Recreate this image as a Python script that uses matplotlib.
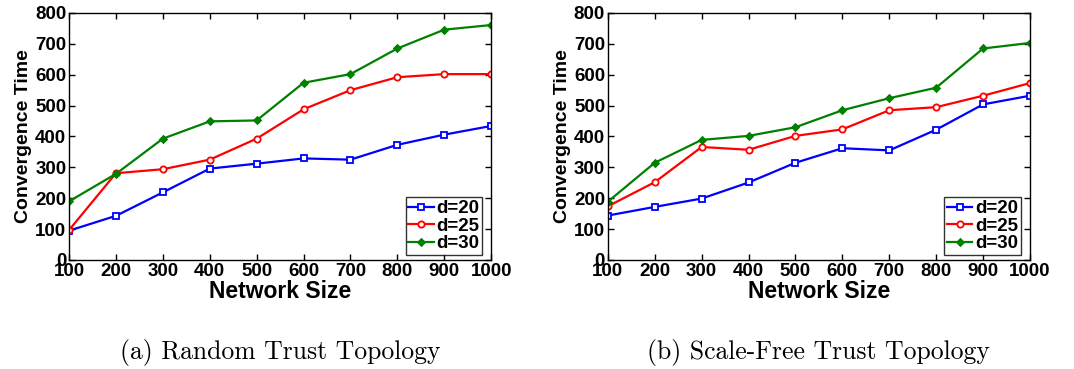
import numpy as np
import matplotlib
matplotlib.use('Agg')
import matplotlib.pyplot as plt

# Data
network_size = [100, 200, 300, 400, 500, 600, 700, 800, 900, 1000]

random_d20 = [95, 143, 219, 296, 312, 329, 325, 373, 406, 434]
random_d25 = [97, 281, 294, 325, 393, 488, 550, 592, 602, 602]
random_d30 = [190, 279, 393, 449, 452, 574, 602, 685, 746, 761]

scalefree_d20 = [144, 172, 199, 251, 315, 362, 355, 422, 504, 532]
scalefree_d25 = [174, 252, 366, 357, 402, 423, 485, 495, 532, 573]
scalefree_d30 = [189, 315, 389, 402, 430, 485, 524, 558, 685, 703]

labels = ['d=20', 'd=25', 'd=30']
captions = ['(a) Random Trust Topology', '(b) Scale-Free Trust Topology']

styles = [
    dict(color='#0000ff', marker='s', mfc='white', ms=4.5),
    dict(color='#ff0000', marker='o', mfc='white', ms=4.5),
    dict(color='#008000', marker='D', mfc='#008000', ms=3.5),
]

plt.rcParams['font.family'] = 'Liberation Sans'
plt.rcParams['font.weight'] = 'bold'

fig = plt.figure(figsize=(10.74, 3.69), dpi=100)
ax1 = fig.add_axes([0.0643, 0.2954, 0.393, 0.6694])
ax2 = fig.add_axes([0.566, 0.2954, 0.393, 0.6694])

panels = [
    (ax1, [random_d20, random_d25, random_d30]),
    (ax2, [scalefree_d20, scalefree_d25, scalefree_d30]),
]

for ax, series in panels:
    for vals, lab, st in zip(series, labels, styles):
        ax.plot(network_size, vals, linewidth=1.6, label=lab,
                mew=1.3, **st)
    ax.set_xlim(100, 1000)
    ax.set_ylim(0, 800)
    ax.set_xticks(network_size)
    ax.set_yticks(np.arange(0, 801, 100))
    ax.tick_params(direction='in', top=True, right=True, labelsize=13.5,
                   length=4, width=1, pad=2)
    for lbl in ax.get_xticklabels() + ax.get_yticklabels():
        lbl.set_fontweight('bold')
    for sp in ax.spines.values():
        sp.set_linewidth(1.0)
    ax.set_xlabel('Network Size', fontsize=16.5, fontweight='bold', labelpad=0)
    ax.set_ylabel('Convergence Time', fontsize=14, fontweight='bold', labelpad=2)
    leg = ax.legend(loc='lower right', bbox_to_anchor=(0.979, 0.02),
                    fontsize=13.5, frameon=True, fancybox=False,
                    edgecolor='black', handlelength=1.35, handletextpad=0.15,
                    borderpad=0.15, labelspacing=0.02, borderaxespad=0)
    leg.get_frame().set_linewidth(1.0)
    for t in leg.get_texts():
        t.set_fontweight('bold')

fig.text(0.2605, 0.046, captions[0], ha='center', va='center',
         fontsize=18.5, fontfamily='cmr10', fontweight='normal')
fig.text(0.7625, 0.046, captions[1], ha='center', va='center',
         fontsize=18.5, fontfamily='cmr10', fontweight='normal')

fig.savefig('out.png', dpi=100)
